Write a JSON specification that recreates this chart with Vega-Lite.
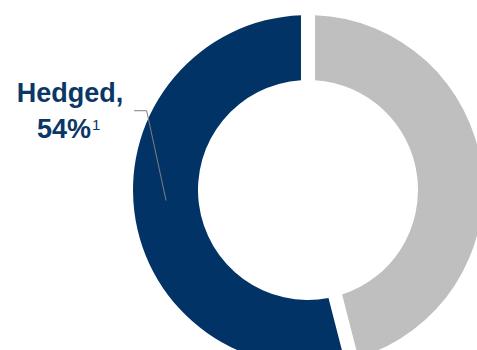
{
  "$schema": "https://vega.github.io/schema/vega-lite/v6.json",
  "width": 350,
  "height": 350,
  "autosize": {"type": "none"},
  "padding": {"left": 133, "top": 15, "right": 0, "bottom": 0},
  "background": "white",
  "config": {"view": {"stroke": null}},
  "datasets": {
    "shares": [
      {"segment": "Unhedged", "value": 46},
      {"segment": "Hedged", "value": 54}
    ],
    "leader": [
      {"lx": -0.994, "ly": 0.453, "step": 0},
      {"lx": -0.922, "ly": 0.453, "step": 1},
      {"lx": -0.811, "ly": -0.06, "step": 2}
    ],
    "labels": [
      {"txt": "Hedged,", "tx": -1.36, "ty": 0.505},
      {"txt": "54%", "tx": -1.394, "ty": 0.295}
    ],
    "sup": [
      {"txt": "1", "tx": -1.234, "ty": 0.343}
    ]
  },
  "layer": [
    {
      "data": {"name": "shares"},
      "mark": {"type": "arc", "radius": 175, "radius2": 110, "padAngle": 0.068},
      "encoding": {
        "theta": {"field": "value", "type": "quantitative", "stack": true},
        "order": {"field": "segment", "sort": "descending"},
        "color": {
          "field": "segment",
          "type": "nominal",
          "scale": {"domain": ["Unhedged", "Hedged"], "range": ["#BFBFBF", "#023366"]},
          "legend": null
        }
      }
    },
    {
      "data": {"name": "leader"},
      "mark": {"type": "line", "color": "#7F7F7F", "strokeWidth": 1},
      "encoding": {
        "x": {"field": "lx", "type": "quantitative", "scale": {"domain": [-1, 1], "nice": false, "zero": false}, "axis": null},
        "y": {"field": "ly", "type": "quantitative", "scale": {"domain": [-1, 1], "nice": false, "zero": false}, "axis": null},
        "order": {"field": "step"}
      }
    },
    {
      "data": {"name": "labels"},
      "mark": {"type": "text", "font": "Liberation Sans", "fontWeight": "bold", "fontSize": 27, "color": "#0B3766", "baseline": "alphabetic", "align": "center"},
      "encoding": {
        "x": {"field": "tx", "type": "quantitative"},
        "y": {"field": "ty", "type": "quantitative"},
        "text": {"field": "txt"}
      }
    },
    {
      "data": {"name": "sup"},
      "mark": {"type": "text", "font": "Liberation Sans", "fontSize": 15, "color": "#0B3766", "baseline": "alphabetic", "align": "left"},
      "encoding": {
        "x": {"field": "tx", "type": "quantitative"},
        "y": {"field": "ty", "type": "quantitative"},
        "text": {"field": "txt"}
      }
    }
  ]
}
